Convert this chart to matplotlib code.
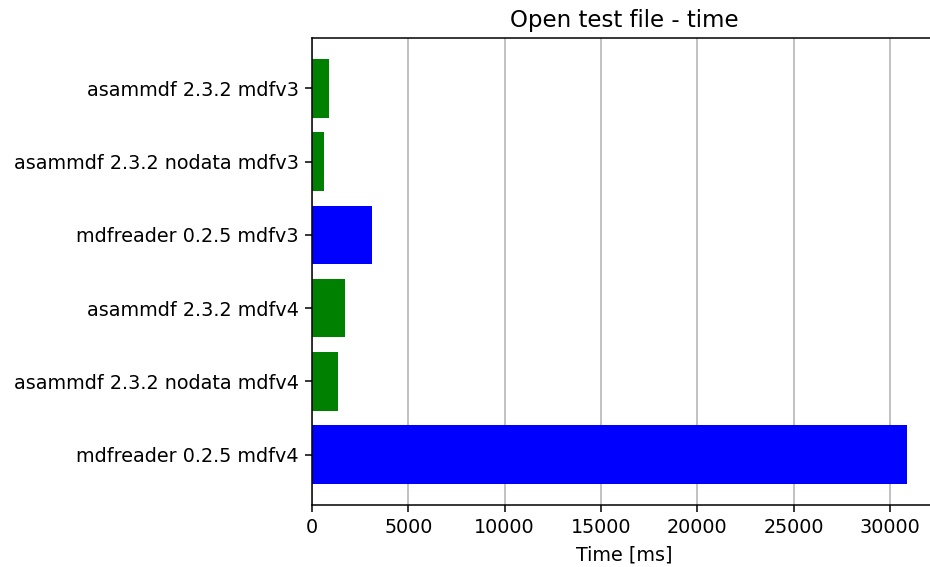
import matplotlib
matplotlib.use("Agg")
import matplotlib.pyplot as plt

labels = [
    "asammdf 2.3.2 mdfv3",
    "asammdf 2.3.2 nodata mdfv3",
    "mdfreader 0.2.5 mdfv3",
    "asammdf 2.3.2 mdfv4",
    "asammdf 2.3.2 nodata mdfv4",
    "mdfreader 0.2.5 mdfv4",
]
times_ms = [883, 623, 3115, 1713, 1350, 30893]
colors = ["green", "green", "blue", "green", "green", "blue"]

DPI = 137.5
fig = plt.figure(figsize=(930 / DPI, 567 / DPI), dpi=DPI)
ax = fig.add_axes([0.3355, 0.1093, 0.672, 0.8237])

pos = list(range(len(labels)))
ax.barh(pos, times_ms, color=colors, height=0.8)
ax.set_yticks(pos)
ax.set_yticklabels(labels, fontsize=10)
ax.invert_yaxis()
ax.tick_params(axis="x", labelsize=10)
ax.xaxis.grid(True, color="#b0b0b0", linewidth=0.8)
ax.set_axisbelow(True)
ax.set_xlabel("Time [ms]", fontsize=10)
ax.set_title("Open test file - time", fontsize=12)

fig.savefig("out.png", dpi=DPI)
